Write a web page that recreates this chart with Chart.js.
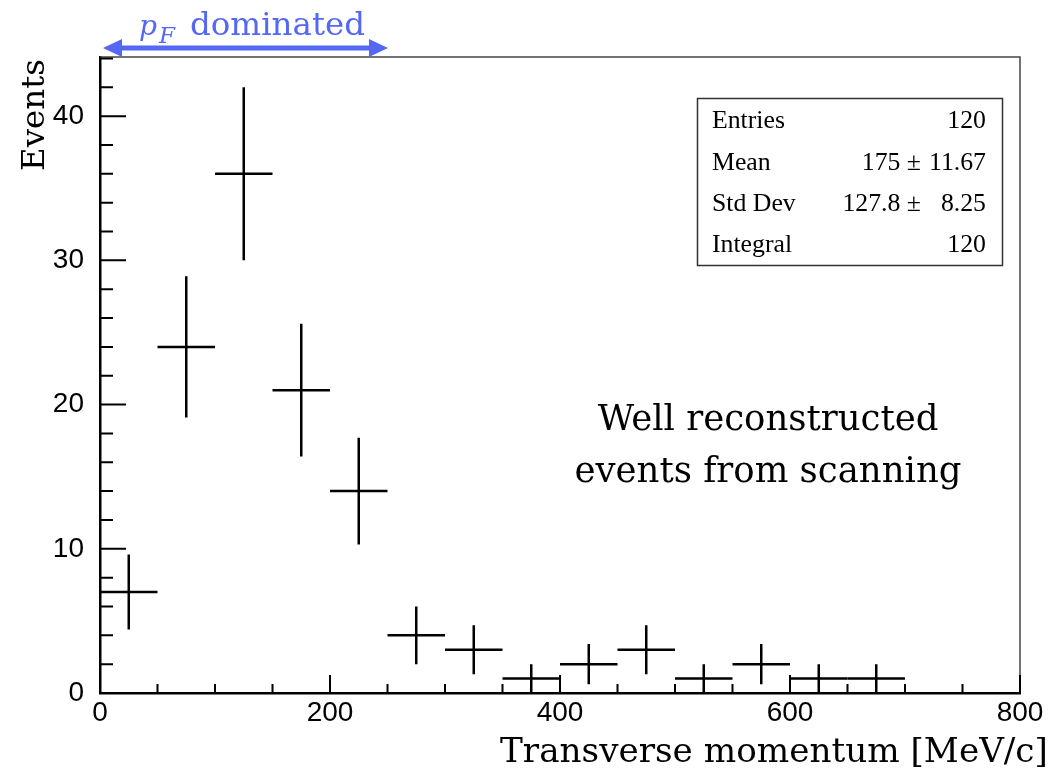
<!DOCTYPE html>
<html>
<head>
<meta charset="utf-8">
<script src="https://cdn.jsdelivr.net/npm/chart.js@4/dist/chart.umd.min.js"></script>
<style>
	html, body { margin: 0; padding: 0; background: #fff; }
	canvas { display: block; }
</style>
</head>
<body>
<canvas id="chart" width="1058" height="779"></canvas>
<script>
// histogram of transverse momentum, 50 MeV/c bins
const binCenters = [25, 75, 125, 175, 225, 275, 325, 375, 425, 475, 525, 575, 625, 675];
const binWidth = 50;
const counts = [7, 24, 36, 21, 14, 4, 3, 1, 2, 3, 1, 2, 1, 1];
const errors = [2.6, 4.9, 6, 4.6, 3.7, 2, 1.7, 1, 1.4, 1.7, 1, 1.4, 1, 1];

const xTicks = [0, 200, 400, 600, 800];
const yTicks = [0, 10, 20, 30, 40];

const statLabels = ["Entries", "Mean", "Std Dev", "Integral"];
const statValues = ["120", "175", "127.8", "120"];
const statErrors = [null, "11.67", "8.25", null];

const BLUE = "#5468f5";
const SANS = "'Liberation Sans', Arial, sans-serif";
const SERIF = "'DejaVu Serif', serif";
const TIMES = "'Liberation Serif', 'Times New Roman', serif";

// pick a font size so that the text is targetWidth wide
function fitFont(ctx, text, family, targetWidth, style) {
	const prefix = style ? style + " " : "";
	ctx.font = `${prefix}100px ${family}`;
	const size = (100 * targetWidth) / ctx.measureText(text).width;
	const font = `${prefix}${size.toFixed(2)}px ${family}`;
	ctx.font = font;
	return size;
}

const errorCrosses = {
	id: "errorCrosses",
	afterDatasetsDraw(chart) {
		const { ctx, scales } = chart;
		const { x, y } = scales;
		ctx.save();
		ctx.strokeStyle = "#000";
		ctx.lineWidth = 2.5;
		ctx.lineCap = "butt";
		for (let i = 0; i < counts.length; i++) {
			const cx = x.getPixelForValue(binCenters[i]);
			const cy = y.getPixelForValue(counts[i]);
			const x0 = x.getPixelForValue(binCenters[i] - binWidth / 2);
			const x1 = x.getPixelForValue(binCenters[i] + binWidth / 2);
			const y0 = y.getPixelForValue(Math.max(0, counts[i] - errors[i]));
			const y1 = y.getPixelForValue(counts[i] + errors[i]);
			ctx.beginPath();
			ctx.moveTo(x0, cy);
			ctx.lineTo(x1, cy);
			ctx.moveTo(cx, y0);
			ctx.lineTo(cx, y1);
			ctx.stroke();
		}
		ctx.restore();
	},
};

const rootFrame = {
	id: "rootFrame",
	beforeDraw(chart) {
		const { ctx } = chart;
		ctx.save();
		ctx.fillStyle = "#fff";
		ctx.fillRect(0, 0, chart.width, chart.height);
		ctx.restore();
	},
	afterDraw(chart) {
		const { ctx, chartArea, scales } = chart;
		const { left, right, top, bottom } = chartArea;
		const { x, y } = scales;
		ctx.save();

		// top and right frame
		ctx.strokeStyle = "#444";
		ctx.lineWidth = 1.5;
		ctx.beginPath();
		ctx.moveTo(left, top);
		ctx.lineTo(right, top);
		ctx.lineTo(right, bottom);
		ctx.stroke();

		// inward ticks
		ctx.strokeStyle = "#000";
		ctx.lineWidth = 2;
		ctx.beginPath();
		for (let v = 0; v <= 800; v += 50) {
			const px = x.getPixelForValue(v);
			const len = v % 200 === 0 ? 18 : 9;
			ctx.moveTo(px, bottom);
			ctx.lineTo(px, bottom - len);
		}
		for (let v = 0; v <= y.max; v += 2) {
			const py = y.getPixelForValue(v);
			const len = v % 10 === 0 ? 26 : 13;
			ctx.moveTo(left, py);
			ctx.lineTo(left + len, py);
		}
		ctx.stroke();

		// axis titles
		ctx.fillStyle = "#000";
		ctx.textBaseline = "alphabetic";
		ctx.textAlign = "left";
		fitFont(ctx, "Transverse momentum [MeV/c]", SERIF, 548);
		ctx.fillText("Transverse momentum [MeV/c]", 500, 762);

		ctx.save();
		ctx.translate(44, 171);
		ctx.rotate(-Math.PI / 2);
		fitFont(ctx, "Events", SERIF, 112);
		ctx.fillText("Events", 0, 0);
		ctx.restore();

		// annotation
		ctx.textAlign = "center";
		const annSize = fitFont(ctx, "events from scanning", SERIF, 387);
		ctx.font = `${annSize.toFixed(2)}px ${SERIF}`;
		ctx.fillText("Well reconstructed", 768, 430);
		ctx.fillText("events from scanning", 768, 482);

		// stats box
		ctx.lineWidth = 1.5;
		ctx.strokeStyle = "#333";
		ctx.strokeRect(697.5, 98.5, 305, 167);
		const statSize = fitFont(ctx, "Entries", TIMES, 73);
		ctx.font = `${statSize.toFixed(2)}px ${TIMES}`;
		const rows = [128, 170, 211, 252];
		statLabels.forEach((label, i) => {
			ctx.textAlign = "left";
			ctx.fillText(label, 712, rows[i]);
			ctx.textAlign = "right";
			if (statErrors[i]) {
				ctx.fillText(statValues[i] + " \u00b1", 921, rows[i]);
				ctx.fillText(statErrors[i], 986, rows[i]);
			} else {
				ctx.fillText(statValues[i], 986, rows[i]);
			}
		});

		// p_F dominated marker
		ctx.fillStyle = BLUE;
		ctx.strokeStyle = BLUE;
		ctx.textAlign = "left";
		fitFont(ctx, "p", SERIF, 18, "italic");
		ctx.fillText("p", 139, 35);
		fitFont(ctx, "F", SERIF, 16, "italic");
		ctx.fillText("F", 159, 43);
		fitFont(ctx, "dominated", SERIF, 175);
		ctx.fillText("dominated", 190, 35);

		const ay = 48;
		const ax0 = 103;
		const ax1 = 388;
		ctx.lineWidth = 5;
		ctx.beginPath();
		ctx.moveTo(ax0 + 12, ay);
		ctx.lineTo(ax1 - 12, ay);
		ctx.stroke();
		ctx.beginPath();
		ctx.moveTo(ax0, ay);
		ctx.lineTo(ax0 + 19, ay - 9);
		ctx.lineTo(ax0 + 19, ay + 9);
		ctx.closePath();
		ctx.moveTo(ax1, ay);
		ctx.lineTo(ax1 - 19, ay - 9);
		ctx.lineTo(ax1 - 19, ay + 9);
		ctx.closePath();
		ctx.fill();

		ctx.restore();
	},
};

const points = binCenters.map((c, i) => ({ x: c, y: counts[i] }));

new Chart(document.getElementById("chart"), {
	type: "scatter",
	data: {
		datasets: [
			{
				label: "Events",
				data: points,
				pointRadius: 0,
				pointHoverRadius: 0,
				showLine: false,
			},
		],
	},
	options: {
		responsive: false,
		animation: false,
		devicePixelRatio: 1,
		layout: { padding: { left: 0, right: 38, top: 57, bottom: 0 } },
		plugins: {
			legend: { display: false },
			tooltip: { enabled: false },
		},
		scales: {
			x: {
				type: "linear",
				min: 0,
				max: 800,
				afterBuildTicks: (scale) => {
					scale.ticks = xTicks.map((v) => ({ value: v }));
				},
				afterFit: (scale) => {
					scale.height = 86;
				},
				ticks: {
					color: "#000",
					font: { family: SANS, size: 28 },
					padding: -5,
					maxRotation: 0,
					autoSkip: false,
				},
				grid: { display: false },
				border: { display: true, color: "#000", width: 2.5 },
			},
			y: {
				type: "linear",
				min: 0,
				max: 44.1,
				afterBuildTicks: (scale) => {
					scale.ticks = yTicks.map((v) => ({ value: v }));
				},
				afterFit: (scale) => {
					scale.width = 100;
				},
				ticks: {
					color: "#000",
					font: { family: SANS, size: 28 },
					padding: 8,
					autoSkip: false,
				},
				grid: { display: false },
				border: { display: true, color: "#000", width: 2.5 },
			},
		},
	},
	plugins: [errorCrosses, rootFrame],
});
</script>
</body>
</html>
